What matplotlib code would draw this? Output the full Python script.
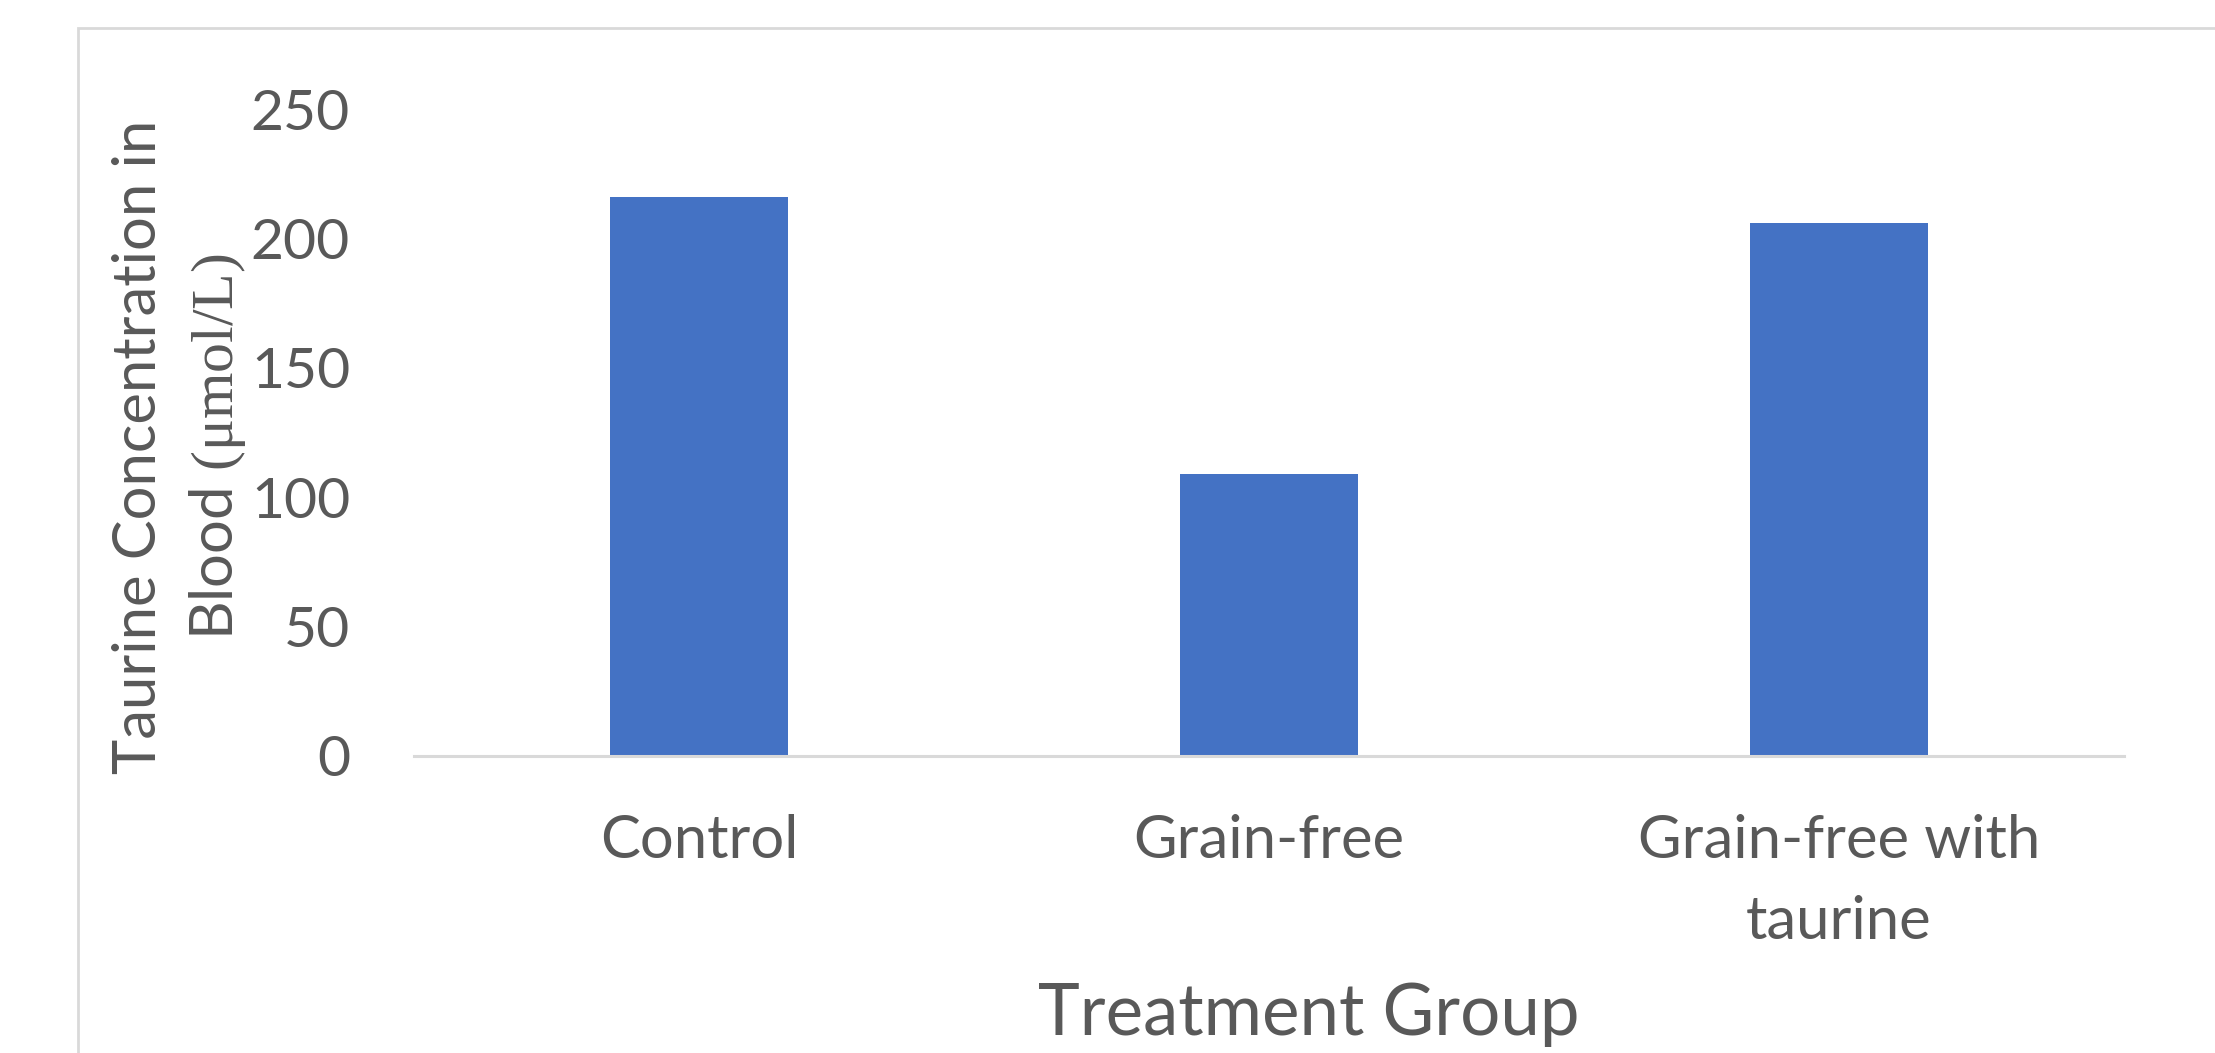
import matplotlib
matplotlib.use("Agg")
import matplotlib.pyplot as plt
from matplotlib.patches import Rectangle

# treatment groups and mean blood taurine (umol/L)
groups = ["Control", "Grain-free", "Grain-free with\ntaurine"]
taurine = [216, 109, 206]
y_ticks = [0, 50, 100, 150, 200, 250]

bar_color = "#4472C4"
text_color = "#595959"
line_color = "#D9D9D9"

plt.rcParams["font.family"] = ["Lato", "DejaVu Sans"]
plt.rcParams["mathtext.fontset"] = "custom"
plt.rcParams["mathtext.rm"] = "Liberation Serif"

W, H = 2215, 1053
fig = plt.figure(figsize=(W / 100, H / 100), dpi=100)

# thin grey frame around the chart area
fig.patches.append(
    Rectangle(
        (78 / W, -0.2),
        1.2,
        (H - 28) / H + 0.2,
        transform=fig.transFigure,
        fill=False,
        edgecolor=line_color,
        linewidth=2.0
    )
)

ax = fig.add_axes([414 / W, (H - 756) / H, 1710 / W, 647 / H])

x = list(range(len(groups)))
ax.bar(x, taurine, width=0.313, color=bar_color)

ax.set_xlim(-0.5, len(groups) - 0.5)
ax.set_ylim(0, 250)
ax.set_yticks(y_ticks)
ax.set_xticks(x)
ax.set_xticklabels(groups, linespacing=1.6, fontsize=43)

for side in ["top", "right", "left"]:
    ax.spines[side].set_visible(False)
ax.spines["bottom"].set_color(line_color)
ax.spines["bottom"].set_linewidth(2.2)

ax.tick_params(axis="both", length=0, colors=text_color)
ax.tick_params(axis="y", pad=46, labelsize=41)
ax.tick_params(axis="x", pad=42)

ax.set_xlabel("Treatment Group", fontsize=51, color=text_color)
ax.xaxis.label.set_va("baseline")
ax.xaxis.set_label_coords((1309 - 414) / 1710, (756 - 1035) / 647)

ax.set_ylabel(
    "Taurine Concentration in\nBlood $\\mathrm{(μmol/L)}$",
    fontsize=43,
    color=text_color,
    linespacing=1.45
)
ax.yaxis.label.set_va("center")
ax.yaxis.set_label_coords((180 - 414) / 1710, (756 - 447) / 647)

fig.savefig("out.png", dpi=100, facecolor="white")
plt.close(fig)
